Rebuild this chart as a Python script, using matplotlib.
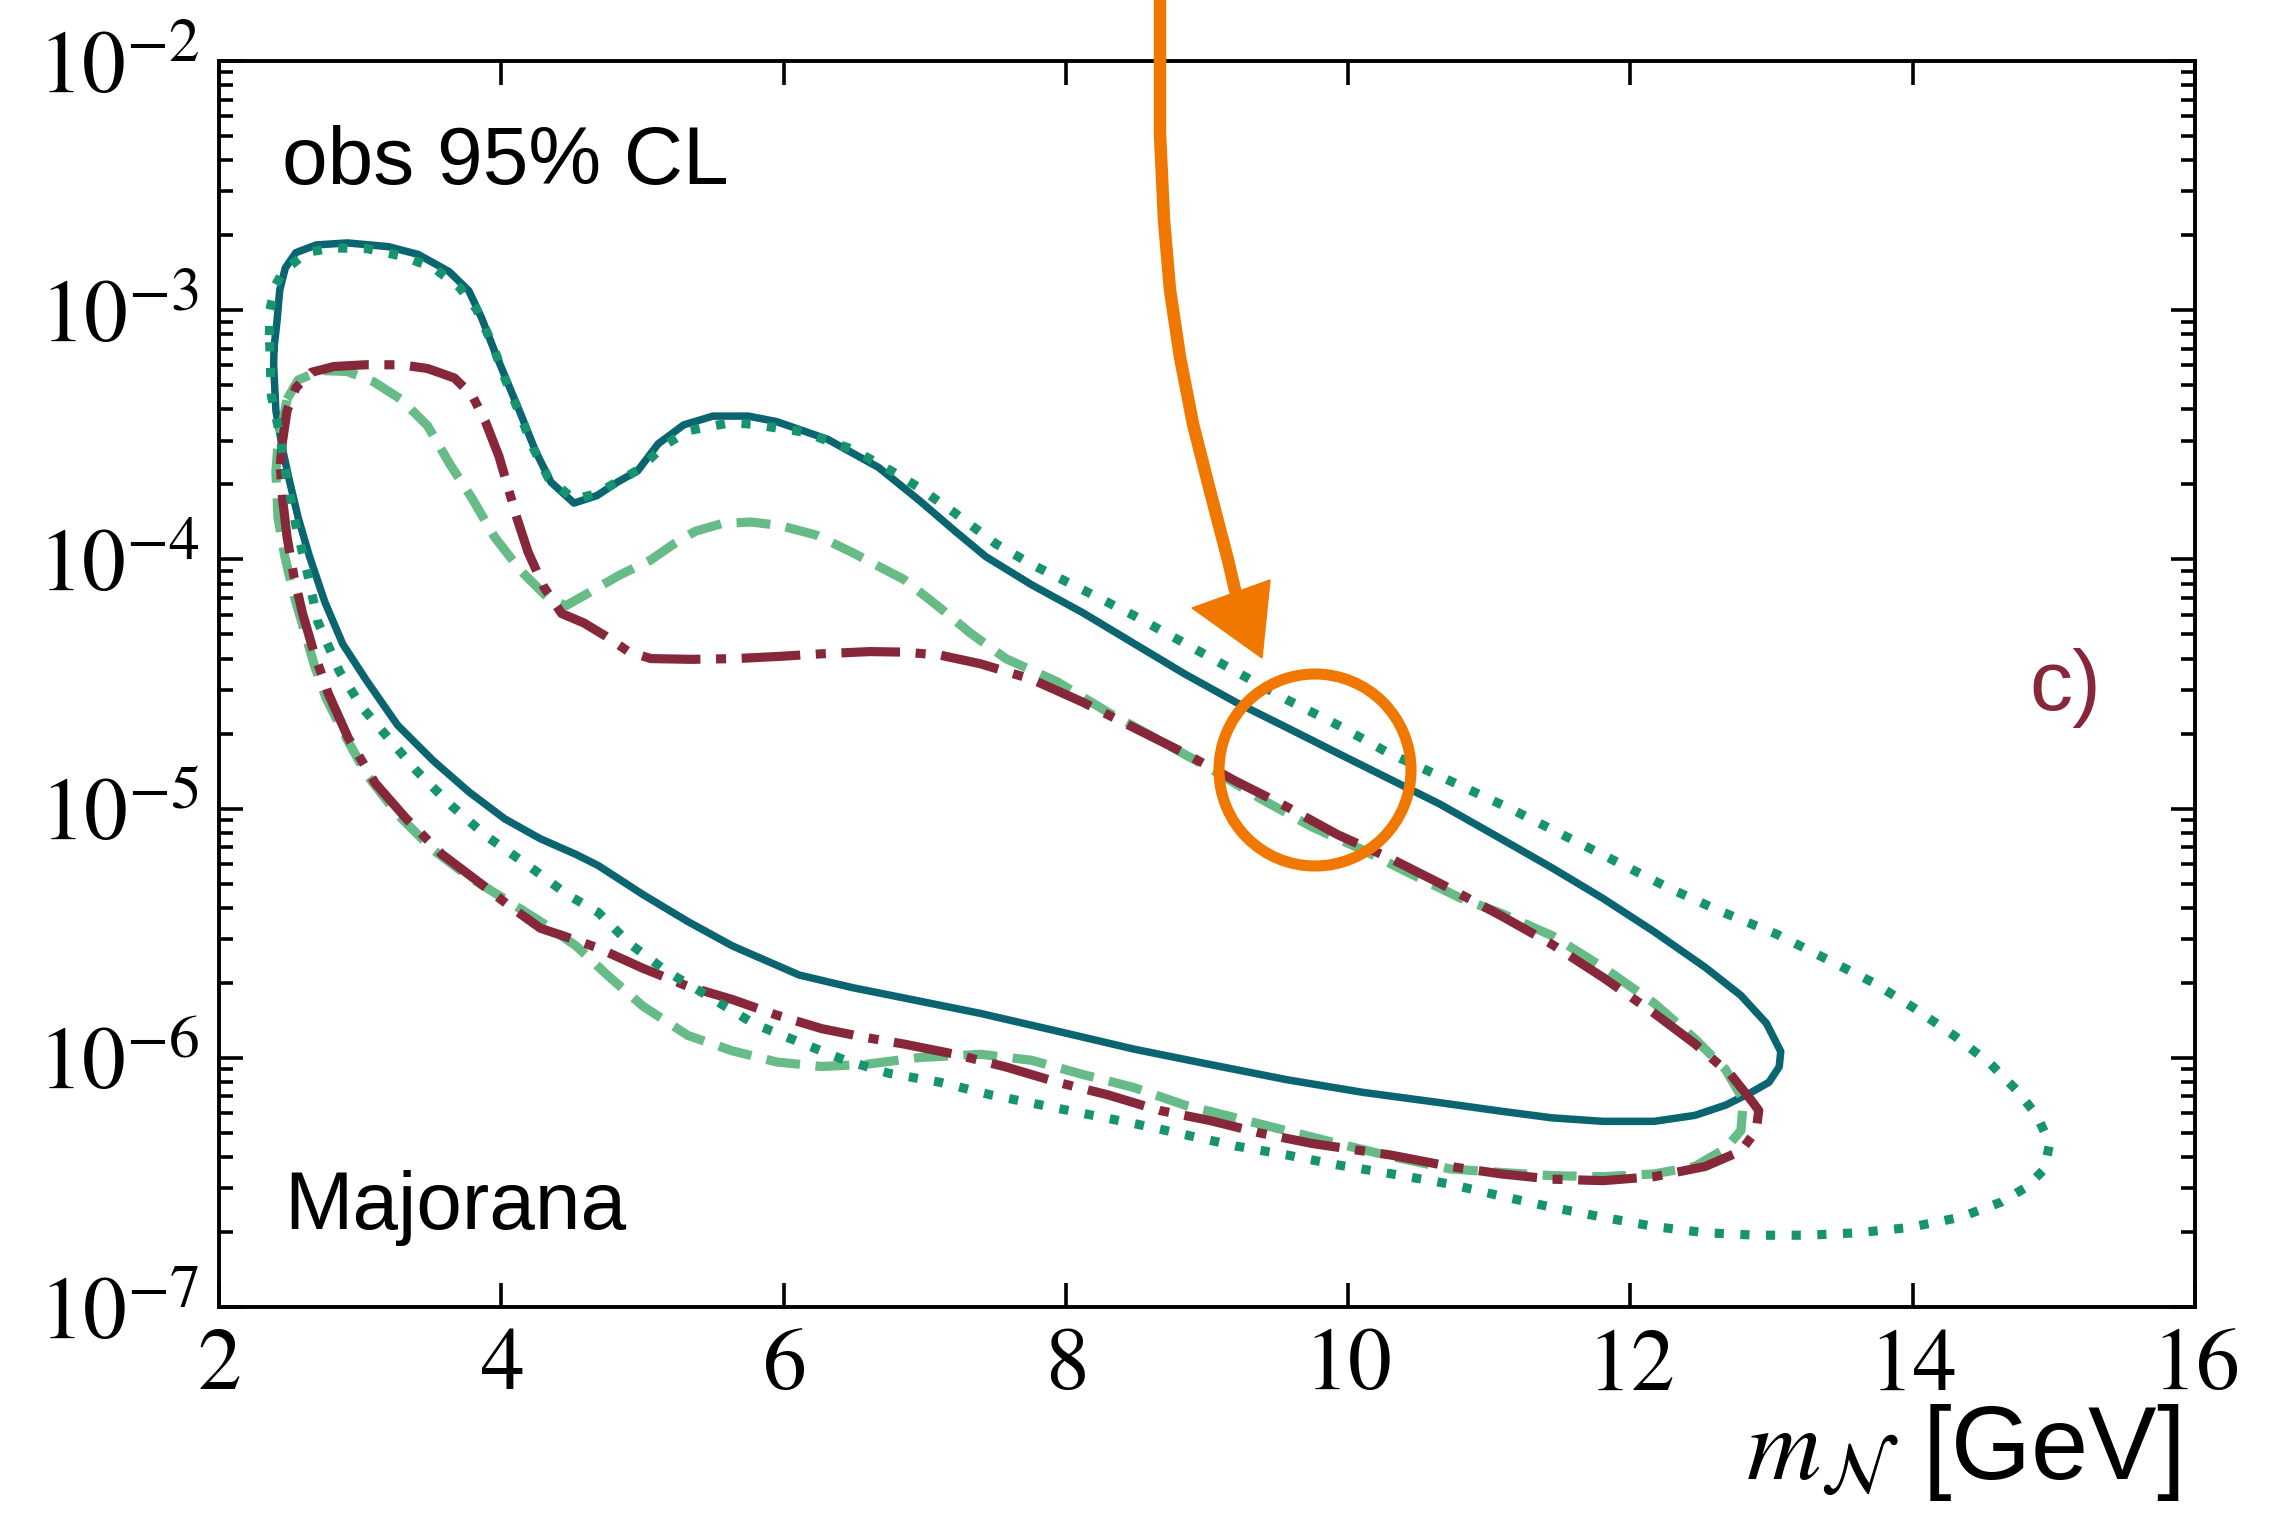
import numpy as np
import matplotlib
matplotlib.use('Agg')
import matplotlib.pyplot as plt
from matplotlib.ticker import FuncFormatter, NullFormatter, LogLocator
from matplotlib.patches import Polygon, Circle

plt.rcParams.update({
    'font.family': 'Liberation Sans',
    'mathtext.fontset': 'stix',
})

# Contours: m_N in GeV, log10 of the mixing
solid_x = [2.39, 2.41, 2.43, 2.47, 2.545, 2.69, 2.91, 3.20, 3.41, 3.63, 3.77, 3.86, 3.955,
           4.045, 4.135, 4.244, 4.352, 4.515, 4.678, 4.823, 4.967, 5.112, 5.293, 5.50, 5.75,
           5.95, 6.312, 6.673, 6.963, 7.216, 7.433, 7.758, 8.12, 8.481, 8.843, 9.204, 9.566,
           9.927, 10.289, 10.65, 11.08, 11.445, 11.807, 12.168, 12.53, 12.783, 12.964, 13.065,
           13.054, 12.982, 12.855, 12.674, 12.457, 12.168, 11.807, 11.445, 11.08, 10.65, 10.108,
           9.566, 9.023, 8.481, 7.939, 7.396, 6.854, 6.493, 6.111, 5.637, 5.321, 5.004, 4.688,
           4.53, 4.277, 4.024, 3.771, 3.518, 3.265, 3.044, 2.877, 2.75, 2.64, 2.561, 2.497,
           2.45, 2.403, 2.387, 2.39]
solid_logy = [-3.15, -3.05, -2.92, -2.83, -2.769, -2.738, -2.730, -2.745, -2.776, -2.845, -2.922,
              -3.03, -3.168, -3.291, -3.413, -3.567, -3.69, -3.774, -3.744, -3.69, -3.644, -3.536,
              -3.46, -3.425, -3.425, -3.447, -3.518, -3.631, -3.764, -3.887, -3.989, -4.102,
              -4.214, -4.337, -4.46, -4.573, -4.675, -4.778, -4.88, -4.982, -5.12, -5.238, -5.361,
              -5.494, -5.637, -5.75, -5.862, -5.975, -6.036, -6.098, -6.139, -6.19, -6.231, -6.255,
              -6.255, -6.241, -6.214, -6.18, -6.139, -6.088, -6.027, -5.965, -5.893, -5.822, -5.76,
              -5.719, -5.668, -5.551, -5.453, -5.345, -5.229, -5.184, -5.121, -5.041, -4.933,
              -4.808, -4.665, -4.485, -4.34, -4.171, -3.986, -3.833, -3.679, -3.557, -3.403,
              -3.219, -3.15]

dotted_x = [2.357, 2.36, 2.40, 2.45, 2.509, 2.617, 2.798, 3.05, 3.304, 3.52, 3.702, 3.828, 3.937,
            4.027, 4.118, 4.226, 4.335, 4.515, 4.678, 4.84, 4.985, 5.148, 5.329, 5.618, 5.77,
            6.131, 6.493, 6.782, 6.963, 7.216, 7.505, 7.758, 8.12, 8.481, 8.843, 9.204, 9.566,
            9.927, 10.289, 10.65, 11.156, 11.554, 11.915, 12.277, 12.638, 13.036, 13.397, 13.723,
            14.012, 14.301, 14.554, 14.735, 14.88, 14.97, 14.934, 14.808, 14.627, 14.337, 13.976,
            13.614, 13.253, 12.891, 12.53, 12.168, 11.807, 11.445, 11.084, 10.722, 10.3, 9.927,
            9.566, 9.204, 8.879, 8.553, 8.192, 7.83, 7.469, 7.107, 6.744, 6.428, 6.111, 5.795,
            5.479, 5.163, 4.91, 4.688, 4.467, 4.214, 3.898, 3.645, 3.392, 3.202, 3.012, 2.854,
            2.70, 2.624, 2.545, 2.482, 2.418, 2.371, 2.357]
dotted_logy = [-3.10, -3.0, -2.90, -2.85, -2.82, -2.769, -2.75, -2.753, -2.784, -2.83, -2.907,
               -2.999, -3.137, -3.275, -3.398, -3.552, -3.675, -3.759, -3.736, -3.682, -3.636,
               -3.544, -3.483, -3.452, -3.457, -3.488, -3.559, -3.651, -3.713, -3.815, -3.938,
               -4.02, -4.122, -4.225, -4.337, -4.45, -4.563, -4.665, -4.778, -4.87, -5.002, -5.115,
               -5.217, -5.32, -5.412, -5.504, -5.606, -5.699, -5.801, -5.914, -6.026, -6.129,
               -6.231, -6.344, -6.446, -6.518, -6.579, -6.64, -6.681, -6.702, -6.712, -6.712,
               -6.702, -6.677, -6.64, -6.6, -6.555, -6.507, -6.465, -6.43, -6.39, -6.354, -6.313,
               -6.272, -6.231, -6.19, -6.149, -6.098, -6.062, -6.008, -5.937, -5.865, -5.757,
               -5.65, -5.542, -5.417, -5.345, -5.238, -5.112, -4.987, -4.844, -4.718, -4.593,
               -4.45, -4.25, -4.048, -3.864, -3.679, -3.464, -3.342, -3.10]

dashed_x = [2.482, 2.561, 2.719, 2.909, 3.098, 3.288, 3.478, 3.636, 3.794, 3.952, 4.142, 4.332,
            4.458, 4.648, 4.838, 5.059, 5.217, 5.375, 5.565, 5.77, 5.976, 6.229, 6.482, 6.854,
            7.107, 7.324, 7.577, 7.939, 8.30, 8.662, 9.023, 9.385, 9.746, 10.108, 10.47, 10.8,
            11.084, 11.445, 11.807, 12.168, 12.457, 12.674, 12.8, 12.783, 12.674, 12.457, 12.168,
            11.807, 11.445, 11.084, 10.722, 10.3, 9.927, 9.566, 9.204, 8.843, 8.481, 8.12, 7.758,
            7.396, 6.959, 6.586, 6.27, 5.953, 5.637, 5.321, 5.004, 4.751, 4.53, 4.277, 4.024,
            3.771, 3.518, 3.265, 3.044, 2.886, 2.759, 2.68, 2.608, 2.529, 2.466, 2.418, 2.403,
            2.42, 2.455, 2.482]
dashed_logy = [-3.357, -3.28, -3.242, -3.246, -3.288, -3.357, -3.464, -3.618, -3.756, -3.91,
               -4.048, -4.155, -4.186, -4.125, -4.063, -4.002, -3.94, -3.887, -3.856, -3.85,
               -3.864, -3.902, -3.971, -4.081, -4.194, -4.296, -4.399, -4.491, -4.614, -4.726,
               -4.839, -4.962, -5.074, -5.167, -5.269, -5.36, -5.42, -5.51, -5.637, -5.781, -5.924,
               -6.047, -6.17, -6.292, -6.364, -6.436, -6.466, -6.477, -6.473, -6.46, -6.446,
               -6.395, -6.344, -6.293, -6.241, -6.19, -6.119, -6.067, -6.01, -5.986, -5.999,
               -6.026, -6.035, -6.017, -5.972, -5.91, -5.793, -5.668, -5.551, -5.453, -5.363,
               -5.274, -5.166, -5.023, -4.862, -4.70, -4.557, -4.432, -4.294, -4.14, -3.987,
               -3.833, -3.649, -3.52, -3.44, -3.357]

dashdot_x = [2.434, 2.45, 2.482, 2.545, 2.656, 2.814, 3.035, 3.288, 3.478, 3.668, 3.794, 3.889,
             3.984, 4.047, 4.11, 4.19, 4.30, 4.427, 4.585, 4.743, 4.901, 5.059, 5.344, 5.66,
             5.976, 6.293, 6.609, 6.854, 7.107, 7.396, 7.758, 8.12, 8.481, 8.843, 9.204, 9.566,
             9.927, 10.289, 10.65, 11.084, 11.445, 11.807, 12.168, 12.457, 12.71, 12.855, 12.909,
             12.891, 12.783, 12.53, 12.168, 11.807, 11.445, 11.084, 10.722, 10.3, 9.746, 9.385,
             9.023, 8.662, 8.30, 7.939, 7.577, 7.216, 6.854, 6.586, 6.27, 5.953, 5.637, 5.321,
             5.004, 4.688, 4.467, 4.277, 4.056, 3.834, 3.581, 3.328, 3.107, 2.917, 2.775, 2.671,
             2.592, 2.529, 2.482, 2.45, 2.434]
dashdot_logy = [-3.618, -3.526, -3.403, -3.311, -3.249, -3.226, -3.219, -3.219, -3.234, -3.272,
                -3.342, -3.449, -3.587, -3.71, -3.833, -3.971, -4.109, -4.217, -4.255, -4.309,
                -4.37, -4.398, -4.401, -4.398, -4.389, -4.378, -4.37, -4.372, -4.384, -4.419,
                -4.481, -4.573, -4.675, -4.778, -4.89, -4.993, -5.105, -5.197, -5.30, -5.43,
                -5.545, -5.678, -5.821, -5.944, -6.067, -6.17, -6.211, -6.292, -6.374, -6.436,
                -6.477, -6.493, -6.487, -6.466, -6.436, -6.39, -6.344, -6.303, -6.252, -6.211,
                -6.149, -6.098, -6.037, -5.986, -5.945, -5.919, -5.883, -5.829, -5.766, -5.713,
                -5.641, -5.56, -5.516, -5.48, -5.39, -5.292, -5.184, -5.041, -4.898, -4.718,
                -4.539, -4.37, -4.217, -4.063, -3.91, -3.756, -3.618]

xticks = [2, 4, 6, 8, 10, 12, 14, 16]
yexp = [-7, -6, -5, -4, -3, -2]

# orange hand-drawn annotation (figure pixels)
arrow_px = [(1160, 0), (1160, 134), (1164, 220), (1170, 290), (1180, 357), (1193, 424),
            (1210, 491), (1228, 560), (1235, 590)]
head_px = [(1192, 608), (1270, 580), (1262, 658)]
circle_px = (1315, 770)
circle_r = 96

teal = '#0a6570'
dotgreen = '#16946f'
lightgreen = '#66bb87'
darkred = '#86283a'
orange = '#f07800'

fig = plt.figure(figsize=(22.9, 15.16), dpi=100)
ax = fig.add_axes([219/2290, 1 - 1307/1516, 1976/2290, 1246/1516])

ax.plot(solid_x, 10**np.array(solid_logy), color=teal, lw=5.4, solid_joinstyle='round')
ax.plot(dashed_x, 10**np.array(dashed_logy), color=lightgreen, lw=6.6, dashes=(3.7, 1.7))
ax.plot(dashdot_x, 10**np.array(dashdot_logy), color=darkred, lw=6.6, dashes=(6.4, 1.7, 1.1, 1.7))
ax.plot(dotted_x, 10**np.array(dotted_logy), color=dotgreen, lw=6.6, dashes=(1.0, 1.8))

ax.set_yscale('log')
ax.set_xlim(2, 16)
ax.set_ylim(1e-7, 1e-2)
ax.set_xticks(xticks)
ax.set_xticklabels([f'${t}$' for t in xticks])
ax.set_yticks([10.0**e for e in yexp])
ax.yaxis.set_major_formatter(FuncFormatter(lambda v, p: r'$10^{%d}$' % round(np.log10(v))))
ax.yaxis.set_minor_locator(LogLocator(base=10, subs=np.arange(2, 10), numticks=20))
ax.yaxis.set_minor_formatter(NullFormatter())
ax.xaxis.set_minor_locator(plt.NullLocator())
ax.tick_params(which='both', direction='in', top=True, right=True, width=2.6)
ax.tick_params(which='major', length=17, labelsize=63)
ax.tick_params(which='minor', length=10)
ax.tick_params(axis='x', pad=14)
ax.tick_params(axis='y', pad=14)
for s in ax.spines.values():
    s.set_linewidth(2.8)

ax.text(0.032, 0.901, 'obs 95% CL', transform=ax.transAxes, fontsize=59, va='baseline')
ax.text(0.033, 0.063, 'Majorana', transform=ax.transAxes, fontsize=59, va='baseline')
ax.text(0.916, 0.479, 'c)', transform=ax.transAxes, fontsize=62, va='baseline', color=darkred)

ax.set_xlabel(r'$m_{\mathcal{N}}$ [GeV]', fontsize=74, ha='right', va='baseline')
ax.xaxis.set_label_coords(0.992, -0.138)

# overlay for the orange mark
ov = fig.add_axes([0, 0, 1, 1], facecolor='none')
ov.set_xlim(0, 2290)
ov.set_ylim(1516, 0)
ov.axis('off')
ax_, ay_ = zip(*arrow_px)
ov.plot(ax_, ay_, color=orange, lw=9, solid_capstyle='round')
ov.add_patch(Polygon(head_px, closed=True, color=orange))
ov.add_patch(Circle(circle_px, circle_r, fill=False, ec=orange, lw=8))

fig.savefig('out.png', dpi=100, facecolor='white')
